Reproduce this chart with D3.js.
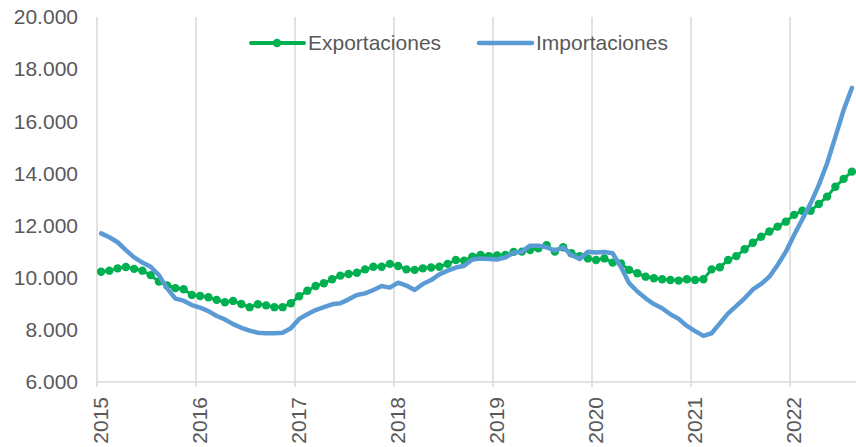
<!DOCTYPE html>
<html>
<head>
<meta charset="utf-8">
<script src="https://cdn.jsdelivr.net/npm/d3@7"></script>
<style>
  body { margin: 0; background: #fff; }
  svg { display: block; font-family: "Liberation Sans", Arial, sans-serif; }
</style>
</head>
<body>
<svg id="chart" width="856" height="447"></svg>
<script>
const years = ['2015', '2016', '2017', '2018', '2019', '2020', '2021', '2022'];
const monthsLastYear = 8;

const exportaciones = [
  10230, 10270, 10360, 10410, 10340, 10270, 10100, 9850, 9700, 9600, 9560, 9340,
  9300, 9250, 9150, 9060, 9110, 8990, 8870, 8980, 8940, 8870, 8870, 9020,
  9290, 9500, 9680, 9790, 9940, 10080, 10140, 10190, 10320, 10420, 10420, 10530,
  10450, 10320, 10300, 10360, 10390, 10420, 10530, 10680, 10650, 10810, 10870, 10830,
  10850, 10870, 10990, 11000, 11060, 11130, 11250, 11000, 11170, 10940, 10830, 10740,
  10680, 10740, 10580, 10550, 10300, 10170, 10040, 9980, 9940, 9910, 9890, 9940,
  9910, 9940, 10320, 10400, 10680, 10830, 11090, 11340, 11570, 11770, 11960, 12150,
  12410, 12570, 12570, 12830, 13110, 13490, 13790, 14070
];

const importaciones = [
  11700, 11550, 11360, 11060, 10780, 10580, 10420, 10100, 9590, 9200, 9120, 8950,
  8850, 8720, 8530, 8400, 8220, 8080, 7970, 7890, 7870, 7870, 7890, 8060,
  8420, 8600, 8760, 8870, 8980, 9020, 9170, 9340, 9400, 9530, 9680, 9620,
  9810, 9700, 9530, 9760, 9910, 10130, 10270, 10390, 10460, 10700, 10740, 10720,
  10700, 10780, 10960, 11000, 11230, 11230, 11170, 11040, 11170, 10870, 10720, 11000,
  10970, 10990, 10940, 10420, 9790, 9470, 9210, 8990, 8830, 8600, 8420, 8150,
  7950, 7770, 7870, 8250, 8630, 8920, 9210, 9550, 9760, 10040, 10490, 11000,
  11640, 12240, 12850, 13560, 14390, 15400, 16430, 17280
];

const yTicks = [6000, 8000, 10000, 12000, 14000, 16000, 18000, 20000];

// one category per month
const months = [];
years.forEach((yr, yi) => {
  const n = yi === years.length - 1 ? monthsLastYear : 12;
  for (let m = 1; m <= n; m++) months.push(yr + '-' + String(m).padStart(2, '0'));
});

const svg = d3.select('#chart');
const plotL = 97, plotR = 856, plotT = 17, plotB = 382;
const grey = '#595959';

const x = d3.scaleBand().domain(months).range([plotL, plotR]);
const y = d3.scaleLinear().domain([6000, 20000]).range([plotB, plotT]);
const cx = (d, i) => x(months[i]) + x.bandwidth() / 2;

const fmt = v => d3.format(',')(v).replace(/,/g, '.');

// vertical gridlines at each year start
const yearStarts = years.map(yr => yr + '-01');
svg.append('g')
  .selectAll('line')
  .data(yearStarts)
  .join('line')
  .attr('x1', d => x(d)).attr('x2', d => x(d))
  .attr('y1', plotT).attr('y2', plotB + 5)
  .attr('stroke', '#d9d9d9')
  .attr('stroke-width', 1.5);

// x axis line
svg.append('line')
  .attr('x1', plotL).attr('x2', plotR)
  .attr('y1', plotB).attr('y2', plotB)
  .attr('stroke', '#d9d9d9')
  .attr('stroke-width', 1.5);

// y labels
svg.append('g')
  .selectAll('text')
  .data(yTicks)
  .join('text')
  .attr('x', 78)
  .attr('y', d => y(d))
  .attr('dy', '0.35em')
  .attr('text-anchor', 'end')
  .attr('font-size', 21)
  .attr('fill', grey)
  .text(fmt);

// x labels, rotated
svg.append('g')
  .selectAll('text')
  .data(years)
  .join('text')
  .attr('transform', d => 'translate(' + (x(d + '-01') + x.bandwidth() / 2) + ',' + (plotB + 15) + ') rotate(-90)')
  .attr('dy', '0.35em')
  .attr('text-anchor', 'end')
  .attr('font-size', 21)
  .attr('fill', grey)
  .text(d => d);

const line = d3.line()
  .x(cx)
  .y(d => y(d));

const green = '#00B050', blue = '#5B9BD5';

svg.append('path')
  .datum(exportaciones)
  .attr('d', line)
  .attr('fill', 'none')
  .attr('stroke', green)
  .attr('stroke-width', 3)
  .attr('stroke-linejoin', 'round');

svg.append('g')
  .selectAll('circle')
  .data(exportaciones)
  .join('circle')
  .attr('cx', cx)
  .attr('cy', d => y(d))
  .attr('r', 4.2)
  .attr('fill', green);

svg.append('path')
  .datum(importaciones)
  .attr('d', line)
  .attr('fill', 'none')
  .attr('stroke', blue)
  .attr('stroke-width', 4.5)
  .attr('stroke-linejoin', 'round')
  .attr('stroke-linecap', 'round');

// legend
const legend = svg.append('g');
legend.append('line')
  .attr('x1', 251).attr('x2', 304).attr('y1', 43).attr('y2', 43)
  .attr('stroke', green).attr('stroke-width', 4).attr('stroke-linecap', 'round');
legend.append('circle')
  .attr('cx', 277).attr('cy', 43).attr('r', 4.2).attr('fill', green);
legend.append('text')
  .attr('x', 308).attr('y', 43).attr('dy', '0.35em')
  .attr('font-size', 21).attr('fill', grey)
  .text('Exportaciones');

legend.append('line')
  .attr('x1', 479).attr('x2', 532).attr('y1', 43).attr('y2', 43)
  .attr('stroke', blue).attr('stroke-width', 4.5).attr('stroke-linecap', 'round');
legend.append('text')
  .attr('x', 536).attr('y', 43).attr('dy', '0.35em')
  .attr('font-size', 21).attr('fill', grey)
  .text('Importaciones');
</script>
</body>
</html>
